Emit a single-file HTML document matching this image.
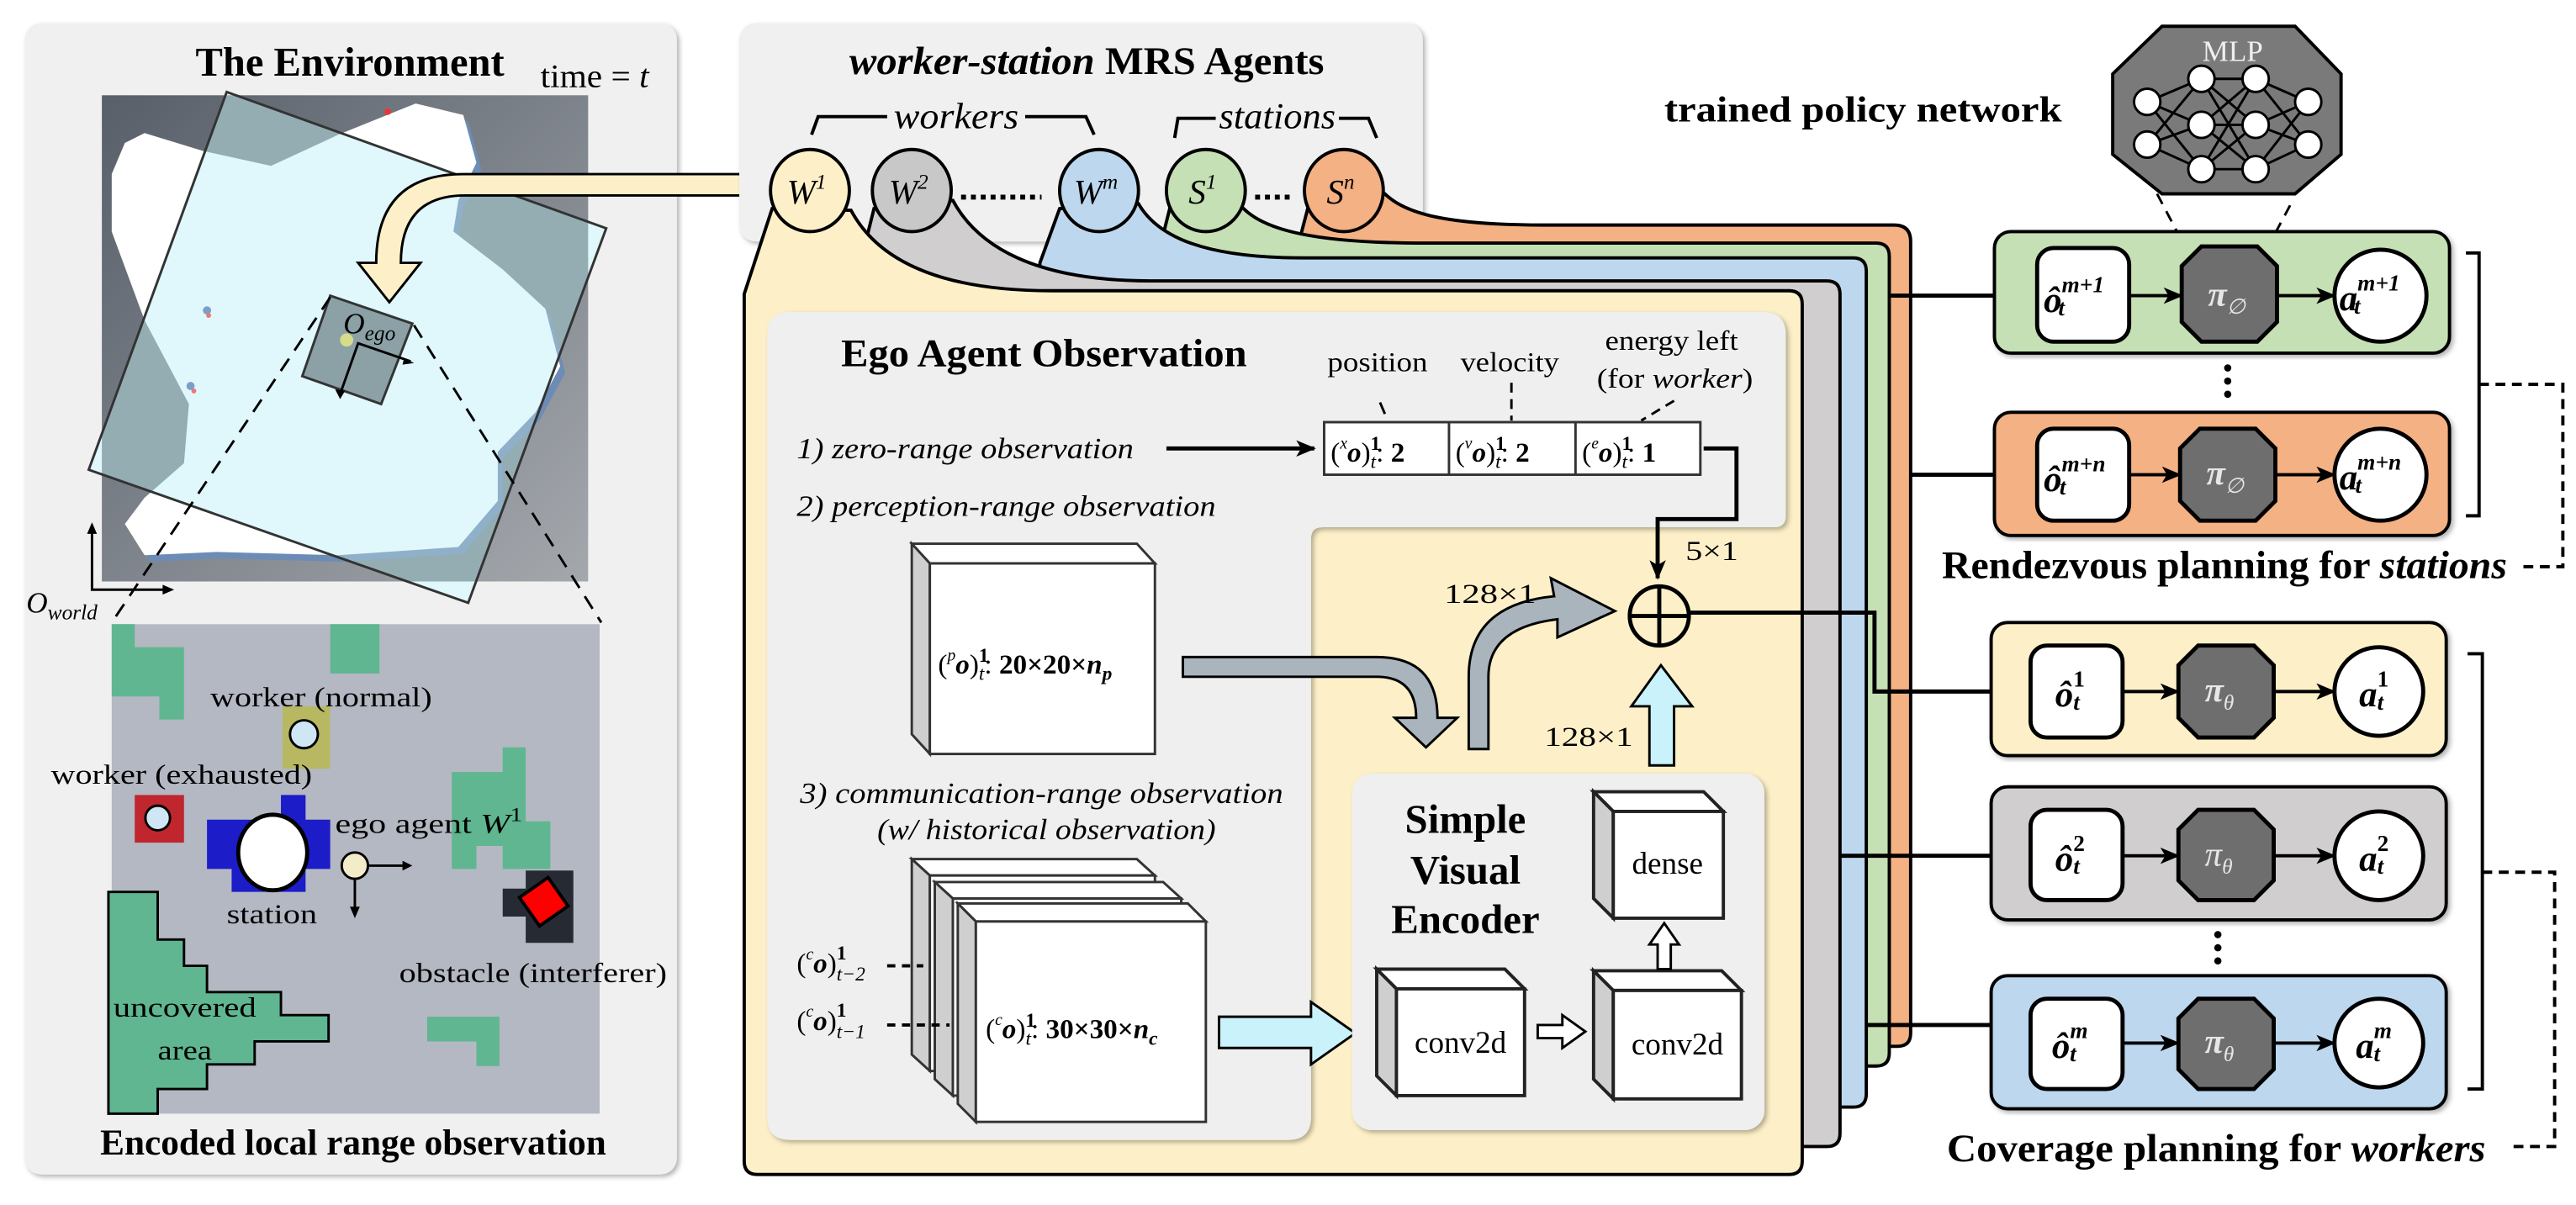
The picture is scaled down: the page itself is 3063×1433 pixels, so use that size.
<!DOCTYPE html>
<html><head><meta charset="utf-8"><style>
html,body{margin:0;padding:0;background:#fff;}
svg{display:block;}
text{font-family:"Liberation Serif",serif;}
</style></head><body>
<svg width="3063" height="1433" viewBox="0 0 1568 733.6" preserveAspectRatio="none" xmlns="http://www.w3.org/2000/svg">
<defs>
<filter id="sh" x="-5%" y="-5%" width="110%" height="110%"><feDropShadow dx="1.5" dy="1.5" stdDeviation="1.5" flood-color="#000" flood-opacity="0.3"/></filter>
<linearGradient id="mapg" x1="0" y1="0" x2="1" y2="1"><stop offset="0" stop-color="#585f69"/><stop offset="1" stop-color="#a4a8ad"/></linearGradient>
<clipPath id="rr"><polygon points="138,56 369,139 285,367 54,286"/></clipPath>
<marker id="ah" viewBox="0 0 12 10" refX="11" refY="5" markerWidth="7" markerHeight="7" orient="auto" markerUnits="userSpaceOnUse"><path d="M0,0 L12,5 L0,10 L3,5 Z" fill="#000"/></marker>
<marker id="ah2" viewBox="0 0 12 10" refX="11" refY="5" markerWidth="12" markerHeight="10" orient="auto" markerUnits="userSpaceOnUse"><path d="M0,0 L12,5 L0,10 L3,5 Z" fill="#000"/></marker>
</defs>

<!-- LEFT PANEL -->
<rect x="15" y="14" width="397" height="701" rx="10" fill="#f0f0f0" filter="url(#sh)"/>
<text x="213" y="46" font-size="25" font-weight="bold" text-anchor="middle" textLength="188" lengthAdjust="spacingAndGlyphs">The Environment</text>
<text x="329" y="53" font-size="20" textLength="66" lengthAdjust="spacingAndGlyphs">time = <tspan font-style="italic">t</tspan></text>

<rect x="62" y="58" width="296" height="296" fill="url(#mapg)"/>
<polygon transform="translate(3,4)" fill="#6c8cb5" points="88,81 124,92 165,101 206,82 253,63 282,70 290,99 279,122 276,141 306,164 332,188 341,223 326,251 303,275 303,305 279,333 206,338 132,336 88,338 76,319 88,303 112,282 115,246 88,195 68,141 68,106 76,87"/>
<polygon fill="#fff" points="88,81 124,92 165,101 206,82 253,63 282,70 290,99 279,122 276,141 306,164 332,188 341,223 326,251 303,275 303,305 279,333 206,338 132,336 88,338 76,319 88,303 112,282 115,246 88,195 68,141 68,106 76,87"/>
<polygon points="138,56 369,139 285,367 54,286" fill="#e0f7fc"/>
<g clip-path="url(#rr)">
<rect x="62" y="58" width="296" height="296" fill="#93adb3"/>
<polygon transform="translate(3,4)" fill="#8fb0c8" points="88,81 124,92 165,101 206,82 253,63 282,70 290,99 279,122 276,141 306,164 332,188 341,223 326,251 303,275 303,305 279,333 206,338 132,336 88,338 76,319 88,303 112,282 115,246 88,195 68,141 68,106 76,87"/>
<polygon fill="#e0f7fc" points="88,81 124,92 165,101 206,82 253,63 282,70 290,99 279,122 276,141 306,164 332,188 341,223 326,251 303,275 303,305 279,333 206,338 132,336 88,338 76,319 88,303 112,282 115,246 88,195 68,141 68,106 76,87"/>
</g>
<polygon points="138,56 369,139 285,367 54,286" fill="none" stroke="#333" stroke-width="1.5"/>
<circle cx="236" cy="68" r="2" fill="#e33"/>
<circle cx="126" cy="189" r="2.5" fill="#7aa0c8"/><circle cx="127" cy="192" r="1.5" fill="#e77"/>
<circle cx="116" cy="235" r="2.5" fill="#7aa0c8"/><circle cx="118" cy="238" r="1.5" fill="#e77"/>
<polygon points="201,180 251,197 232,246 184,229" fill="#8ba1a6" stroke="#333" stroke-width="1.5"/>
<circle cx="211" cy="207" r="4" fill="#d6dc8a"/>
<polyline points="250,220 218,209 207,240" fill="none" stroke="#000" stroke-width="1.5"/>
<path d="M246,218 L252,221 L245,222Z M204,237 L207,243 L210,238Z" fill="#000"/>
<text x="209" y="203" font-size="18" font-style="italic">O<tspan font-size="13" dy="4">ego</tspan></text>
<line x1="201" y1="181" x2="68" y2="379" stroke="#000" stroke-width="1.5" stroke-dasharray="9,6"/>
<line x1="252" y1="198" x2="366" y2="379" stroke="#000" stroke-width="1.5" stroke-dasharray="9,6"/>
<!-- yellow curved arrow -->
<path d="M456,106 L282,106 Q229,106 229,160 L218,160 L237,184 L256,160 L244,160 Q244,119 283,119 L456,119 Z" fill="#fdf0c8" stroke="#000" stroke-width="1.5"/>
<!-- O_world axes -->
<polyline points="56,321 56,359 103,359" fill="none" stroke="#000" stroke-width="1.5"/>
<path d="M53,325 L56,318 L59,325Z M99,356 L106,359 L99,362Z" fill="#000"/>
<text x="16" y="373" font-size="18" font-style="italic">O<tspan font-size="13" dy="4">world</tspan></text>

<!-- encoded map -->
<rect x="68" y="380" width="297" height="298" fill="#b4b8c2"/>
<polygon points="68,380 82,380 82,394 112,394 112,438 97,438 97,424 68,424" fill="#5fb690"/>
<rect x="201" y="380" width="30" height="30" fill="#5fb690"/>
<rect x="172" y="430" width="29" height="38" fill="#b8b862"/>
<circle cx="185" cy="447" r="8.5" fill="#cfe6f5" stroke="#000" stroke-width="1.5"/>
<rect x="82" y="484" width="30" height="29" fill="#c0262d"/>
<circle cx="96" cy="498" r="7.5" fill="#cfe6f5" stroke="#000" stroke-width="1.5"/>
<polygon points="171,484 186,484 186,499 201,499 201,529 186,529 186,543 141,543 141,529 126,529 126,499 171,499" fill="#1c1cc8"/>
<ellipse cx="166" cy="519" rx="21" ry="23" fill="#fff" stroke="#000" stroke-width="2.5"/>
<polyline points="249,527 216,527 216,556" fill="none" stroke="#000" stroke-width="1.5"/>
<path d="M245,524 L251,527 L245,530Z M213,552 L216,559 L219,552Z" fill="#000"/>
<circle cx="216" cy="527" r="8" fill="#f3ecc8" stroke="#000" stroke-width="1.5"/>
<polygon points="306,455 320,455 320,500 335,500 335,529 306,529 306,515 290,515 290,529 275,529 275,470 306,470" fill="#5fb690"/>
<polygon points="320,530 349,530 349,574 320,574 320,558 306,558 306,541 320,541" fill="#262a33"/>
<polygon points="331,534 346,549 331,564 316,549" fill="#ff0000" stroke="#000" stroke-width="2" transform="rotate(10 331 549)"/>
<polygon points="66,543 96,543 96,572 112,572 112,588 126,588 126,604 171,604 171,618 200,618 200,634 155,634 155,648 126,648 126,663 96,663 96,678 66,678" fill="#5fb690" stroke="#000" stroke-width="1.5"/>
<polygon points="260,619 304,619 304,649 290,649 290,634 260,634" fill="#5fb690"/>
<text x="128" y="430" font-size="17" textLength="135" lengthAdjust="spacingAndGlyphs">worker (normal)</text>
<text x="31" y="477" font-size="17" textLength="159" lengthAdjust="spacingAndGlyphs">worker (exhausted)</text>
<text x="204" y="507" font-size="17" textLength="114" lengthAdjust="spacingAndGlyphs">ego agent <tspan font-style="italic">W</tspan><tspan font-size="12" dy="-7">1</tspan></text>
<text x="138" y="562" font-size="17" textLength="55" lengthAdjust="spacingAndGlyphs">station</text>
<text x="243" y="598" font-size="17" textLength="163" lengthAdjust="spacingAndGlyphs">obstacle (interferer)</text>
<text x="69" y="619" font-size="17" textLength="87" lengthAdjust="spacingAndGlyphs">uncovered</text>
<text x="96" y="645" font-size="17" textLength="33" lengthAdjust="spacingAndGlyphs">area</text>
<text x="215" y="703" font-size="22" font-weight="bold" text-anchor="middle" textLength="308" lengthAdjust="spacingAndGlyphs">Encoded local range observation</text>

<!-- MRS PANEL -->
<rect x="450" y="14" width="416" height="133" rx="10" fill="#f0f0f0" filter="url(#sh)"/>
<text x="517" y="45" font-size="24" textLength="289" lengthAdjust="spacingAndGlyphs"><tspan font-style="italic" font-weight="bold">worker-station</tspan><tspan font-weight="bold"> MRS Agents</tspan></text>
<text x="544" y="78" font-size="22" font-style="italic" textLength="76" lengthAdjust="spacingAndGlyphs">workers</text>
<text x="742" y="78" font-size="22" font-style="italic" textLength="71" lengthAdjust="spacingAndGlyphs">stations</text>
<path d="M494,82 L498,71 H540 M624,71 H661 L666,82 M715,84 L717,72 H740 M815,72 H833 L838,84" fill="none" stroke="#000" stroke-width="2"/>

<!-- stacked cards back to front -->
<path d="M796,127 L790,150 V629 Q790,637 798,637 H1155 Q1163,637 1163,629 V147 Q1163,137 1153,137 H940 C880,137 855,130 843,118 Z" fill="#f4b183" stroke="#000" stroke-width="2"/>
<path d="M712,127 L705,155 V641 Q705,649 713,649 H1142 Q1150,649 1150,641 V156 Q1150,148 1142,148 H867 C800,148 770,140 757,127 Z" fill="#c5e0b4" stroke="#000" stroke-width="2"/>
<path d="M645,127 L633,160 V666 Q633,674 641,674 H1128 Q1136,674 1136,666 V165 Q1136,157 1128,157 H793 C735,157 705,145 693,124 Z" fill="#bdd7ee" stroke="#000" stroke-width="2"/>
<path d="M532,127 L520,175 V690 Q520,698 528,698 H1112 Q1120,698 1120,690 V179 Q1120,171 1112,171 H700 C630,171 595,150 580,122 Z" fill="#d0cece" stroke="#000" stroke-width="2"/>
<path d="M470,127 L453,179 V707 Q453,715 461,715 H1089 Q1097,715 1097,707 V185 Q1097,177 1089,177 H640 C575,177 535,160 518,128 Z" fill="#fdf0c8" stroke="#000" stroke-width="2"/>

<!-- circles -->
<g stroke="#000" stroke-width="2">
<ellipse cx="493" cy="116" rx="24" ry="25" fill="#fdf0c8"/>
<ellipse cx="555" cy="116" rx="24" ry="25" fill="#c8c8c8"/>
<ellipse cx="669" cy="116" rx="24" ry="25" fill="#bdd7ee"/>
<ellipse cx="734" cy="116" rx="24" ry="25" fill="#c5e0b4"/>
<ellipse cx="818" cy="116" rx="24" ry="25" fill="#f4b183"/>
</g>
<g font-size="21" font-style="italic" text-anchor="middle">
<text x="491" y="124">W<tspan font-size="13" dy="-9">1</tspan></text>
<text x="553" y="124">W<tspan font-size="13" dy="-9">2</tspan></text>
<text x="667" y="124">W<tspan font-size="13" dy="-9">m</tspan></text>
<text x="732" y="124">S<tspan font-size="13" dy="-9">1</tspan></text>
<text x="816" y="124">S<tspan font-size="13" dy="-9">n</tspan></text>
</g>
<line x1="585" y1="120" x2="634" y2="120" stroke="#000" stroke-width="3" stroke-dasharray="3,3"/>
<line x1="764" y1="120" x2="788" y2="120" stroke="#000" stroke-width="3" stroke-dasharray="3,3"/>

<!-- inner gray observation panel -->
<path d="M481,190 H1073 Q1087,190 1087,204 V314 Q1087,321 1080,321 H805 Q798,321 798,328 V680 Q798,694 784,694 H481 Q467,694 467,680 V204 Q467,190 481,190 Z" fill="#efefef" filter="url(#sh)"/>
<text x="512" y="223" font-size="24" font-weight="bold" textLength="247" lengthAdjust="spacingAndGlyphs">Ego Agent Observation</text>
<text x="808" y="226" font-size="17" textLength="61" lengthAdjust="spacingAndGlyphs">position</text>
<text x="889" y="226" font-size="17" textLength="60" lengthAdjust="spacingAndGlyphs">velocity</text>
<text x="977" y="213" font-size="17" textLength="81" lengthAdjust="spacingAndGlyphs">energy left</text>
<text x="972" y="236" font-size="17" textLength="95" lengthAdjust="spacingAndGlyphs">(for <tspan font-style="italic">worker</tspan>)</text>
<line x1="840" y1="245" x2="843" y2="252" stroke="#000" stroke-width="1.5"/>
<line x1="920" y1="233" x2="920" y2="256" stroke="#000" stroke-width="1.5" stroke-dasharray="6,4"/>
<line x1="1019" y1="244" x2="999" y2="256" stroke="#000" stroke-width="1.5" stroke-dasharray="6,4"/>
<rect x="806" y="257" width="229" height="32" fill="#fff" stroke="#333" stroke-width="1.5"/>
<line x1="882" y1="257" x2="882" y2="289" stroke="#333" stroke-width="1.5"/>
<line x1="959" y1="257" x2="959" y2="289" stroke="#333" stroke-width="1.5"/>
<g font-size="17">
<text x="810" y="281">(<tspan font-size="10" dy="-8" font-style="italic">x</tspan><tspan dy="8" font-weight="bold" font-style="italic">o</tspan>)<tspan font-size="12" dy="-7" font-weight="bold">1</tspan><tspan font-size="12" dx="-6" dy="11" font-style="italic">t</tspan><tspan dy="-4">: </tspan><tspan font-weight="bold">2</tspan></text>
<text x="886" y="281">(<tspan font-size="10" dy="-8" font-style="italic">v</tspan><tspan dy="8" font-weight="bold" font-style="italic">o</tspan>)<tspan font-size="12" dy="-7" font-weight="bold">1</tspan><tspan font-size="12" dx="-6" dy="11" font-style="italic">t</tspan><tspan dy="-4">: </tspan><tspan font-weight="bold">2</tspan></text>
<text x="963" y="281">(<tspan font-size="10" dy="-8" font-style="italic">e</tspan><tspan dy="8" font-weight="bold" font-style="italic">o</tspan>)<tspan font-size="12" dy="-7" font-weight="bold">1</tspan><tspan font-size="12" dx="-6" dy="11" font-style="italic">t</tspan><tspan dy="-4">: </tspan><tspan font-weight="bold">1</tspan></text>
</g>
<text x="485" y="279" font-size="18" font-style="italic" textLength="205" lengthAdjust="spacingAndGlyphs">1) zero-range observation</text>
<line x1="710" y1="273" x2="800" y2="273" stroke="#000" stroke-width="2.5" marker-end="url(#ah2)"/>
<text x="485" y="314" font-size="18" font-style="italic" textLength="255" lengthAdjust="spacingAndGlyphs">2) perception-range observation</text>
<polyline points="1037,273 1057,273 1057,316 1009,316 1009,352" fill="none" stroke="#000" stroke-width="2.5" marker-end="url(#ah2)"/>
<text x="1026" y="341" font-size="17" textLength="32" lengthAdjust="spacingAndGlyphs">5×1</text>

<!-- perception box -->
<g stroke="#333" stroke-width="1.5">
<polygon points="555,331 692,331 703,343 566,343" fill="#fff"/>
<polygon points="555,331 566,343 566,459 555,447" fill="#cfcfcf"/>
<rect x="566" y="343" width="137" height="116" fill="#fff"/>
</g>
<text x="571" y="410" font-size="17">(<tspan font-size="10" dy="-8" font-style="italic">p</tspan><tspan dy="8" font-weight="bold" font-style="italic">o</tspan>)<tspan font-size="12" dy="-7" font-weight="bold">1</tspan><tspan font-size="12" dx="-6" dy="11" font-style="italic">t</tspan><tspan dy="-4">: </tspan><tspan font-weight="bold">20×20×<tspan font-style="italic">n</tspan></tspan><tspan font-size="12" dy="4" font-weight="bold" font-style="italic">p</tspan></text>

<!-- gray arrows -->
<path d="M720,400 H838 Q875,400 875,437 H887 L868,455 L849,437 H862 Q862,412 838,412 H720 Z" fill="#aab4bc" stroke="#000" stroke-width="1.5"/>
<path d="M894,456 V412 Q894,368 946,363 L944,352 L983,372 L948,388 L948,377 Q906,382 906,412 V456 Z" fill="#aab4bc" stroke="#000" stroke-width="1.5"/>
<text x="879" y="367" font-size="17" textLength="56" lengthAdjust="spacingAndGlyphs">128×1</text>
<!-- oplus -->
<circle cx="1010" cy="375" r="18" fill="none" stroke="#000" stroke-width="2.5"/>
<line x1="992" y1="375" x2="1028" y2="375" stroke="#000" stroke-width="2.5"/>
<line x1="1010" y1="357" x2="1010" y2="393" stroke="#000" stroke-width="2.5"/>
<path d="M1004,466 V430 H993 L1011,405 L1030,430 H1019 V466 Z" fill="#c9f2fa" stroke="#000" stroke-width="1.5"/>
<text x="940" y="454" font-size="17" textLength="54" lengthAdjust="spacingAndGlyphs">128×1</text>

<text x="487" y="489" font-size="18" font-style="italic" textLength="294" lengthAdjust="spacingAndGlyphs">3) communication-range observation</text>
<text x="534" y="511" font-size="18" font-style="italic" textLength="206" lengthAdjust="spacingAndGlyphs">(w/ historical observation)</text>

<!-- comm boxes -->
<g stroke="#333" stroke-width="1.5">
<polygon points="555,523 692,523 703,533 566,533" fill="#fff"/>
<polygon points="555,523 566,533 566,652 555,642" fill="#cfcfcf"/>
<rect x="566" y="533" width="137" height="119" fill="#fff"/>
<polygon points="569,537 708,537 719,547 580,547" fill="#fff"/>
<polygon points="569,537 580,547 580,667 569,657" fill="#cfcfcf"/>
<rect x="580" y="547" width="139" height="120" fill="#fff"/>
<polygon points="583,550 723,550 734,561 594,561" fill="#fff"/>
<polygon points="583,550 594,561 594,683 583,672" fill="#cfcfcf"/>
<rect x="594" y="561" width="140" height="122" fill="#fff"/>
</g>
<text x="600" y="632" font-size="17">(<tspan font-size="10" dy="-8" font-style="italic">c</tspan><tspan dy="8" font-weight="bold" font-style="italic">o</tspan>)<tspan font-size="12" dy="-7" font-weight="bold">1</tspan><tspan font-size="12" dx="-6" dy="11" font-style="italic">t</tspan><tspan dy="-4">: </tspan><tspan font-weight="bold">30×30×<tspan font-style="italic">n</tspan></tspan><tspan font-size="12" dy="4" font-weight="bold" font-style="italic">c</tspan></text>
<text x="485" y="592" font-size="17">(<tspan font-size="10" dy="-8" font-style="italic">c</tspan><tspan dy="8" font-weight="bold" font-style="italic">o</tspan>)<tspan font-size="12" dy="-8" font-weight="bold">1</tspan><tspan font-size="12" dx="-6" dy="13" font-style="italic">t−2</tspan></text>
<text x="485" y="627" font-size="17">(<tspan font-size="10" dy="-8" font-style="italic">c</tspan><tspan dy="8" font-weight="bold" font-style="italic">o</tspan>)<tspan font-size="12" dy="-8" font-weight="bold">1</tspan><tspan font-size="12" dx="-6" dy="13" font-style="italic">t−1</tspan></text>
<line x1="540" y1="588" x2="562" y2="588" stroke="#000" stroke-width="2" stroke-dasharray="5,4"/>
<line x1="540" y1="624" x2="578" y2="624" stroke="#000" stroke-width="2" stroke-dasharray="5,4"/>
<path d="M742,619 H798 V610 L825,629 L798,648 V638 H742 Z" fill="#c9f2fa" stroke="#000" stroke-width="1.5"/>

<!-- simple visual encoder -->
<rect x="823" y="471" width="251" height="217" rx="12" fill="#efefef" filter="url(#sh)"/>
<g font-size="25" font-weight="bold" text-anchor="middle">
<text x="892" y="507">Simple</text><text x="892" y="538">Visual</text><text x="892" y="568">Encoder</text>
</g>
<g stroke="#222" stroke-width="2">
<polygon points="838,590 916,590 928,602 850,602" fill="#fff"/>
<polygon points="838,590 850,602 850,667 838,655" fill="#cfcfcf"/>
<rect x="850" y="602" width="78" height="65" fill="#fff"/>
<polygon points="970,591 1048,591 1060,603 982,603" fill="#fff"/>
<polygon points="970,591 982,603 982,669 970,657" fill="#cfcfcf"/>
<rect x="982" y="603" width="78" height="66" fill="#fff"/>
<polygon points="970,482 1037,482 1049,494 982,494" fill="#fff"/>
<polygon points="970,482 982,494 982,559 970,547" fill="#cfcfcf"/>
<rect x="982" y="494" width="67" height="65" fill="#fff"/>
</g>
<g font-size="19" text-anchor="middle"><text x="889" y="641">conv2d</text><text x="1021" y="642">conv2d</text><text x="1015" y="532">dense</text></g>
<path d="M936,624 H951 V618 L965,628 L951,638 V632 H936 Z" fill="#fff" stroke="#000" stroke-width="1.5"/>
<path d="M1009,590 V575 H1004 L1013,562 L1022,575 H1017 V590 Z" fill="#fff" stroke="#000" stroke-width="1.5"/>

<!-- connectors to rows -->
<g stroke="#000" stroke-width="2.5" fill="none">
<line x1="1151" y1="180" x2="1240" y2="180" marker-end="url(#ah2)"/>
<line x1="1163" y1="289" x2="1240" y2="289" marker-end="url(#ah2)"/>
<polyline points="1029,373 1141,373 1141,421 1236,421" marker-end="url(#ah2)"/>
<line x1="1120" y1="521" x2="1236" y2="521" marker-end="url(#ah2)"/>
<line x1="1136" y1="624" x2="1236" y2="624" marker-end="url(#ah2)"/>
</g>

<!-- right side -->
<text x="1013" y="74" font-size="22" font-weight="bold" textLength="242" lengthAdjust="spacingAndGlyphs">trained policy network</text>
<polygon points="1316,16 1397,16 1425,45 1425,94 1397,118 1316,118 1286,94 1286,45" fill="#7a7a7a" stroke="#000" stroke-width="2"/>
<text x="1359" y="37" font-size="18" fill="#eee" text-anchor="middle">MLP</text>
<g stroke="#000" stroke-width="1.5">
<path d="M1307,62 L1340,48 M1307,62 L1340,76 M1307,62 L1340,103 M1307,88 L1340,48 M1307,88 L1340,76 M1307,88 L1340,103 M1340,48 L1373,48 M1340,48 L1373,76 M1340,48 L1373,103 M1340,76 L1373,48 M1340,76 L1373,76 M1340,76 L1373,103 M1340,103 L1373,48 M1340,103 L1373,76 M1340,103 L1373,103 M1373,48 L1405,62 M1373,48 L1405,88 M1373,76 L1405,62 M1373,76 L1405,88 M1373,103 L1405,62 M1373,103 L1405,88"/>
<g fill="#fff"><circle cx="1307" cy="62" r="8"/><circle cx="1307" cy="88" r="8"/><circle cx="1340" cy="48" r="8"/><circle cx="1340" cy="76" r="8"/><circle cx="1340" cy="103" r="8"/><circle cx="1373" cy="48" r="8"/><circle cx="1373" cy="76" r="8"/><circle cx="1373" cy="103" r="8"/><circle cx="1405" cy="62" r="8"/><circle cx="1405" cy="88" r="8"/></g>
</g>
<line x1="1313" y1="118" x2="1333" y2="156" stroke="#000" stroke-width="1.5" stroke-dasharray="7,5"/>
<line x1="1394" y1="125" x2="1379" y2="153" stroke="#000" stroke-width="1.5" stroke-dasharray="7,5"/>

<!-- rows -->
<g stroke="#000" stroke-width="2">
<rect x="1214" y="141" width="277" height="74" rx="10" fill="#c5e0b4" filter="url(#sh)"/>
<rect x="1214" y="251" width="277" height="75" rx="10" fill="#f4b183" filter="url(#sh)"/>
<rect x="1212" y="379" width="277" height="81" rx="10" fill="#fdf0c8" filter="url(#sh)"/>
<rect x="1212" y="479" width="277" height="81" rx="10" fill="#d0cece" filter="url(#sh)"/>
<rect x="1212" y="594" width="277" height="81" rx="10" fill="#bdd7ee" filter="url(#sh)"/>
</g>
<g stroke="#000" stroke-width="2.5">
<rect x="1240" y="151" width="56" height="57" rx="10" fill="#fff"/>
<rect x="1240" y="261" width="56" height="56" rx="10" fill="#fff"/>
<rect x="1236" y="393" width="56" height="56" rx="10" fill="#fff"/>
<rect x="1236" y="493" width="56" height="55" rx="10" fill="#fff"/>
<rect x="1236" y="608" width="56" height="55" rx="10" fill="#fff"/>
<polygon points="1340,150 1374,150 1386,162 1386,196 1374,208 1340,208 1328,196 1328,162" fill="#6e6e6e"/>
<polygon points="1339,261 1373,261 1385,273 1385,305 1373,317 1339,317 1327,305 1327,273" fill="#6e6e6e"/>
<polygon points="1338,393 1372,393 1384,405 1384,437 1372,449 1338,449 1326,437 1326,405" fill="#6e6e6e"/>
<polygon points="1338,493 1372,493 1384,505 1384,536 1372,548 1338,548 1326,536 1326,505" fill="#6e6e6e"/>
<polygon points="1338,608 1372,608 1384,620 1384,651 1372,663 1338,663 1326,651 1326,620" fill="#6e6e6e"/>
<circle cx="1449" cy="180" r="28" fill="#fff"/>
<circle cx="1449" cy="289" r="28" fill="#fff"/>
<circle cx="1448" cy="421" r="27" fill="#fff"/>
<circle cx="1448" cy="521" r="27" fill="#fff"/>
<circle cx="1448" cy="635" r="27" fill="#fff"/>
</g>
<g stroke="#000" stroke-width="2">
<line x1="1296" y1="180" x2="1328" y2="180" marker-end="url(#ah2)"/>
<line x1="1386" y1="180" x2="1421" y2="180" marker-end="url(#ah2)"/>
<line x1="1296" y1="289" x2="1327" y2="289" marker-end="url(#ah2)"/>
<line x1="1385" y1="289" x2="1421" y2="289" marker-end="url(#ah2)"/>
<line x1="1292" y1="421" x2="1326" y2="421" marker-end="url(#ah2)"/>
<line x1="1384" y1="421" x2="1421" y2="421" marker-end="url(#ah2)"/>
<line x1="1292" y1="521" x2="1326" y2="521" marker-end="url(#ah2)"/>
<line x1="1384" y1="521" x2="1421" y2="521" marker-end="url(#ah2)"/>
<line x1="1292" y1="635" x2="1326" y2="635" marker-end="url(#ah2)"/>
<line x1="1384" y1="635" x2="1421" y2="635" marker-end="url(#ah2)"/>
</g>
<!-- row labels -->
<g font-size="22" font-weight="bold" font-style="italic">
<text x="1244" y="190">ô<tspan font-size="14" dy="-12">m+1</tspan><tspan font-size="14" dx="-28" dy="14">t</tspan></text>
<text x="1244" y="299">ô<tspan font-size="14" dy="-12">m+n</tspan><tspan font-size="14" dx="-28" dy="14">t</tspan></text>
<text x="1251" y="430">ô<tspan font-size="14" dy="-12" font-style="normal">1</tspan><tspan font-size="14" dx="-7" dy="14">t</tspan></text>
<text x="1251" y="530">ô<tspan font-size="14" dy="-12" font-style="normal">2</tspan><tspan font-size="14" dx="-7" dy="14">t</tspan></text>
<text x="1249" y="644">ô<tspan font-size="14" dy="-12">m</tspan><tspan font-size="14" dx="-11" dy="14">t</tspan></text>
<text x="1424" y="189">a<tspan font-size="14" dy="-12">m+1</tspan><tspan font-size="14" dx="-28" dy="14">t</tspan></text>
<text x="1424" y="298">a<tspan font-size="14" dy="-12">m+n</tspan><tspan font-size="14" dx="-28" dy="14">t</tspan></text>
<text x="1436" y="430">a<tspan font-size="14" dy="-12" font-style="normal">1</tspan><tspan font-size="14" dx="-7" dy="14">t</tspan></text>
<text x="1436" y="530">a<tspan font-size="14" dy="-12" font-style="normal">2</tspan><tspan font-size="14" dx="-7" dy="14">t</tspan></text>
<text x="1434" y="644">a<tspan font-size="14" dy="-12">m</tspan><tspan font-size="14" dx="-11" dy="14">t</tspan></text>
</g>
<g font-size="21" font-weight="bold" font-style="italic" fill="#e6e6e6">
<text x="1344" y="186">π<tspan font-size="13" dy="5" font-weight="normal">∅</tspan></text>
<text x="1343" y="295">π<tspan font-size="13" dy="5" font-weight="normal">∅</tspan></text>
<text x="1342" y="427">π<tspan font-size="13" dy="5" font-weight="normal">θ</tspan></text>
<text x="1342" y="527" font-weight="normal">π<tspan font-size="13" dy="5">θ</tspan></text>
<text x="1342" y="641">π<tspan font-size="13" dy="5" font-weight="normal">θ</tspan></text>
</g>
<g fill="#000"><circle cx="1356" cy="224" r="2.2"/><circle cx="1356" cy="232" r="2.2"/><circle cx="1356" cy="240" r="2.2"/>
<circle cx="1350" cy="569" r="2.2"/><circle cx="1350" cy="577" r="2.2"/><circle cx="1350" cy="585" r="2.2"/></g>
<!-- brackets -->
<polyline points="1501,154 1509,154 1509,314 1501,314" fill="none" stroke="#000" stroke-width="2"/>
<polyline points="1509,234 1560,234 1560,345 1533,345" fill="none" stroke="#000" stroke-width="2" stroke-dasharray="6,4"/>
<polyline points="1502,398 1511,398 1511,663 1502,663" fill="none" stroke="#000" stroke-width="2"/>
<polyline points="1511,531 1555,531 1555,698 1527,698" fill="none" stroke="#000" stroke-width="2" stroke-dasharray="6,4"/>
<text x="1182" y="352" font-size="24" font-weight="bold" textLength="344" lengthAdjust="spacingAndGlyphs">Rendezvous planning for <tspan font-style="italic">stations</tspan></text>
<text x="1185" y="707" font-size="24" font-weight="bold" textLength="328" lengthAdjust="spacingAndGlyphs">Coverage planning for <tspan font-style="italic">workers</tspan></text>
</svg>
</body></html>
